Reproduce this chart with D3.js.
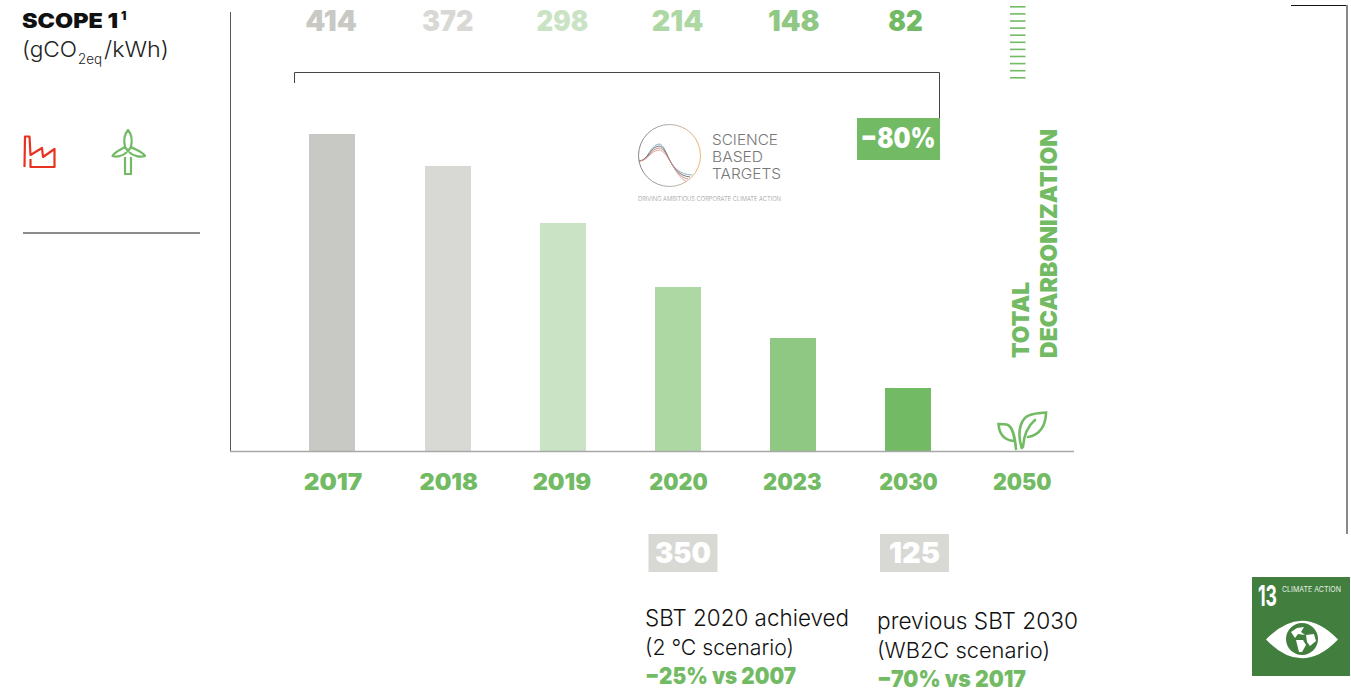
<!DOCTYPE html>
<html><head><meta charset="utf-8">
<script src="https://cdnjs.cloudflare.com/ajax/libs/d3/7.8.5/d3.min.js"></script>
<style>html,body{margin:0;padding:0;background:#fff;overflow:hidden}svg{display:block}text{font-family:Inter,"Liberation Sans",sans-serif}</style>
</head><body><svg id="c" width="1351" height="698"></svg>
<script>
const categories=["2017","2018","2019","2020","2023","2030","2050"];
const values=[414,372,298,214,148,82,0];
const valueLabels=["414","372","298","214","148","82",""];
const barColors=["#c8c9c4","#d8d9d5","#c9e3c4","#add8a3","#8fc882","#72bb64","#72bb64"];
const referenceValues=["350","125"];
const reductionLabel="−80%";
const green="#72bb64",grey="#d8d9d5",ink="#222";
const svg=d3.select("#c");
const x=d3.scalePoint().domain(categories).range([332.5,1023.7]);
const y=d3.scaleLinear().domain([0,414]).range([451,134]);
const txt=(s,xp,yp,size,weight,fill,anchor="start",w=null)=>{
 const t=svg.append("text").attr("x",xp).attr("y",yp).attr("font-size",size).attr("font-weight",weight).attr("fill",fill).attr("text-anchor",anchor).text(s);
 if(w) t.attr("textLength",w).attr("lengthAdjust","spacingAndGlyphs");
 return t;};

// axes
svg.append("line").attr("x1",230.5).attr("x2",230.5).attr("y1",12).attr("y2",451).attr("stroke","#555");

// bars
svg.selectAll("rect.bar").data(categories.map((c,i)=>({c,v:values[i],col:barColors[i]})).filter(d=>d.v>0)).join("rect")
 .attr("class","bar").attr("x",d=>Math.floor(x(d.c)-22.7)).attr("width",46).attr("y",d=>Math.round(y(d.v))).attr("height",d=>Math.round(y(0))-Math.round(y(d.v))).attr("fill",d=>d.col);
svg.append("line").attr("x1",230).attr("x2",1074).attr("y1",451.5).attr("y2",451.5).attr("stroke","#a8a8a8").attr("stroke-width",1.6);

// value labels
const labelNudge=[-1.5,0,-.5,-.5,.5,-3,0];
categories.forEach((c,i)=>{ if(valueLabels[i]) txt(valueLabels[i],x(c)+labelNudge[i],30.5,28,900,barColors[i],"middle",valueLabels[i].length*17.2); });
const yearNudge=[.5,1,-1,.5,-1,0,-1.5];
categories.forEach((c,i)=>txt(c,x(c)+yearNudge[i],490,23,900,green,"middle",c.endsWith("1")?56:58.5));

// header
txt("SCOPE 1",22,27.5,20.5,900,"#111","start",96);
txt("1",121,20,12,900,"#111");
txt("(gCO",22,57,22,300,"#222","start",55);
txt("2eq",78,64,14,300,"#222","start",24);
txt("/kWh)",104,57,22,300,"#222","start",65);
svg.append("line").attr("x1",23).attr("x2",200).attr("y1",233).attr("y2",233).attr("stroke","#666").attr("stroke-width",1.3);

// factory icon
svg.append("path").attr("d","M24.5 167L25 136.5H29.5L30.5 155L42 148L43 157L54.5 149V167H30.5V159").attr("fill","none").attr("stroke","#e8321f").attr("stroke-width",2.2).attr("stroke-linejoin","round");
// turbine icon
svg.append("path").attr("d","M125 157V174H131V157M128 130C124.5 134 123.5 140 125 147L128 151L131 147C132.5 140 131.5 134 128 130ZM125 147C120 150 114 152 112.5 156C117 157.5 123 156 127 152M131 147C136 150 143 152 145 156C140 157.5 133 156 129 152").attr("fill","none").attr("stroke",green).attr("stroke-width",2.2).attr("stroke-linejoin","round");

// bracket
svg.append("path").attr("d","M294.5 83V72.5H939.5V118").attr("fill","none").attr("stroke","#444");
svg.append("rect").attr("x",857).attr("y",118).attr("width",83).attr("height",42).attr("fill",green);
txt(reductionLabel,898,148,28,900,"#fff","middle",75);

// dashed stack
d3.range(11).forEach(i=>svg.append("rect").attr("x",1010).attr("width",15.5).attr("y",6+i*7.1).attr("height",1.6).attr("fill",green));

// vertical text
svg.append("text").attr("transform","translate(1029,358) rotate(-90)").attr("font-size",23).attr("font-weight",900).attr("fill",green).attr("textLength",76).attr("lengthAdjust","spacingAndGlyphs").text("TOTAL");
svg.append("text").attr("transform","translate(1057,358) rotate(-90)").attr("font-size",23).attr("font-weight",900).attr("fill",green).attr("textLength",229).attr("lengthAdjust","spacingAndGlyphs").text("DECARBONIZATION");

// leaf
svg.append("path").attr("d","M1021.7 448C1016 430 1022 417 1030 415C1036 413 1042 413 1046 412.5C1046 425 1040 435 1028 437M1023 447C1024 432 1029 425 1035 420M1016 449C1015 437 1012 427 1008 425C1005 424 1001 424 998.5 424C999 432 1002 440 1014 441").attr("fill","none").attr("stroke",green).attr("stroke-width",2.6).attr("stroke-linecap","round");

// SBT logo
const defs=svg.append("defs");
const g=defs.append("linearGradient").attr("id","ring");
g.append("stop").attr("offset","0").attr("stop-color","#777");
g.append("stop").attr("offset",".55").attr("stop-color","#aaa");
g.append("stop").attr("offset","1").attr("stop-color","#eba95f");
svg.append("circle").attr("cx",669.5).attr("cy",155.5).attr("r",31).attr("fill","none").attr("stroke","url(#ring)").attr("stroke-width",.9);
["#6f9fba","#555","#b47a7a","#dc8f83"].forEach((col,i)=>svg.append("path").attr("d",`M639 161C648 161 650 ${145+i*2} 659 ${144+i*2}C668 ${144+i*2} ${666+i*3} ${174+i} ${692-i*2} ${175+i*2}`).attr("fill","none").attr("stroke",col).attr("stroke-width",.8));
[["SCIENCE",66],["BASED",51],["TARGETS",69]].forEach(([t,w],i)=>txt(t,712,145+i*17,14,300,"#777","start",w));
txt("DRIVING AMBITIOUS CORPORATE CLIMATE ACTION",638,201,6,300,"#999","start",143);

// reference boxes
[683,914.5].forEach((cx,i)=>{
 svg.append("rect").attr("x",cx-34.5).attr("y",534).attr("width",69).attr("height",38).attr("fill",grey);
 txt(referenceValues[i],cx,562.5,28,900,"#fff","middle",i?51:56);
});
txt("SBT 2020 achieved",645,626,23,300,"#111","start",204);
txt("(2 °C scenario)",645,655,22,300,"#111","start",149);
txt("−25% vs 2007",645,684,23,900,green,"start",151);
txt("previous SBT 2030",877,629,23,300,"#111","start",201);
txt("(WB2C scenario)",877,658,22,300,"#111","start",173);
txt("−70% vs 2017",877,687,23,900,green,"start",149);

// right frame
svg.append("line").attr("x1",1291).attr("x2",1347).attr("y1",5.5).attr("y2",5.5).attr("stroke","#111");
svg.append("line").attr("x1",1347).attr("x2",1347).attr("y1",5).attr("y2",534).attr("stroke","#888").attr("stroke-width",2);

// SDG tile
svg.append("rect").attr("x",1252).attr("y",577).attr("width",98).attr("height",99).attr("fill","#427f3f");
txt("13",1258,606,29,700,"#fff","start",19);
txt("CLIMATE ACTION",1282,592,7.5,400,"#e6efe5","start",59);
svg.append("path").attr("d","M1266 639.5Q1302 602 1338 639.5Q1302 677 1266 639.5Z").attr("fill","#fff");
svg.append("circle").attr("cx",1302).attr("cy",639).attr("r",16).attr("fill","#427f3f");
svg.append("path").attr("d","M1291 632L1297 628L1304 627L1301 632L1305 635L1298 634L1295 638ZM1296 640L1303 640L1306 645L1302 652L1299 652ZM1306 635L1314 634L1316 641L1310 646L1307 642Z").attr("fill","#fff");
</script></body></html>
